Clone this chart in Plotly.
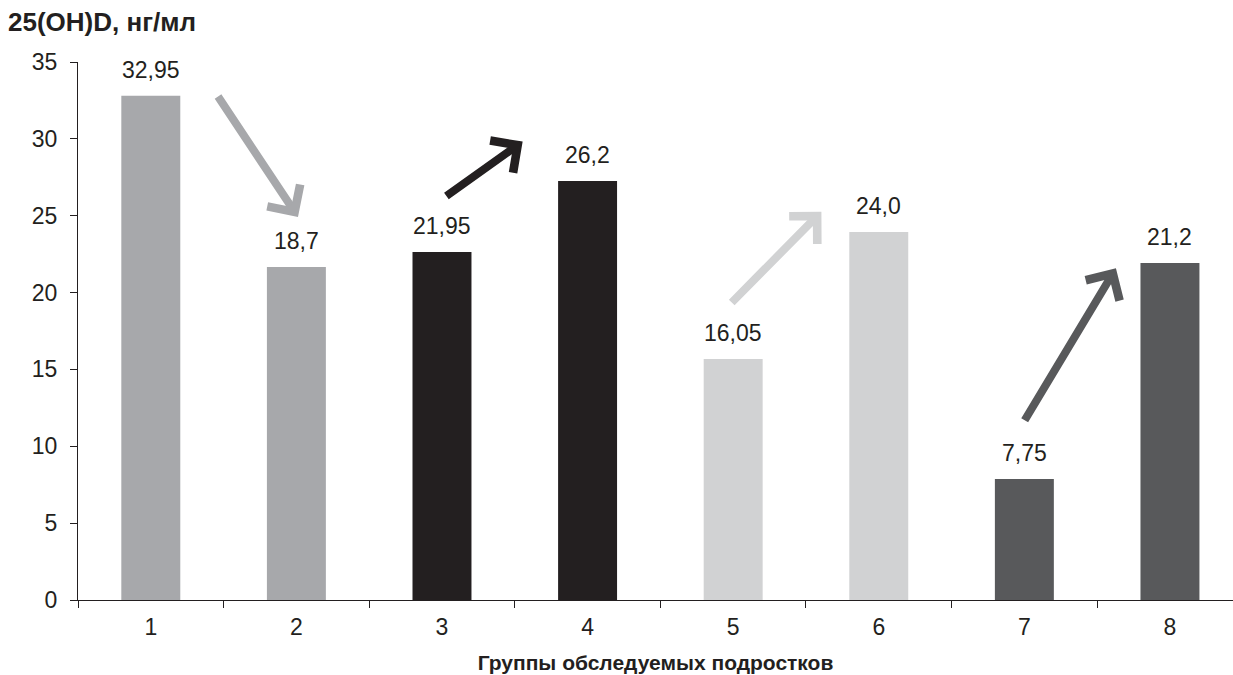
import plotly.graph_objects as go

# ---- data ----
groups = ["1", "2", "3", "4", "5", "6", "7", "8"]
bar_values = [32.81, 21.66, 22.64, 27.26, 15.68, 23.94, 7.87, 21.92]
value_labels = ["32,95", "18,7", "21,95", "26,2", "16,05", "24,0", "7,75", "21,2"]
bar_colors = ["#a7a8ab", "#a7a8ab", "#231f20", "#231f20",
              "#d1d2d3", "#d1d2d3", "#58595b", "#58595b"]

# arrows between groups (category index, value units): tail -> tip
arrow_tail_x = [0.455, 2.02, 3.98, 5.996]
arrow_tail_y = [32.85, 26.22, 19.26, 11.6]
arrow_tip_x = [1.011, 2.554, 4.606, 6.629]
arrow_tip_y = [24.92, 29.82, 25.26, 21.58]
arrow_colors = ["#a7a8ab", "#231f20", "#d1d2d3", "#58595b"]

y_title = "25(OH)D, нг/мл"
x_title = "Группы обследуемых подростков"

FONT = "Liberation Sans, Arial, sans-serif"
INK = "#231f20"

fig = go.Figure()
fig.add_trace(go.Bar(
    x=groups, y=bar_values,
    marker=dict(color=bar_colors, line=dict(width=0)),
    hoverinfo="skip",
))

annotations = []
for i, (v, t) in enumerate(zip(bar_values, value_labels)):
    annotations.append(dict(
        x=i, y=v, xref="x", yref="y", text=t, showarrow=False,
        yanchor="middle", yshift=26,
        font=dict(family=FONT, size=23, color=INK),
    ))

for tx, ty, hx, hy, c in zip(arrow_tail_x, arrow_tail_y, arrow_tip_x, arrow_tip_y, arrow_colors):
    annotations.append(dict(
        x=hx, y=hy, ax=tx, ay=ty, xref="x", yref="y", axref="x", ayref="y",
        text="", showarrow=True, arrowhead=4, arrowsize=0.95, arrowwidth=8,
        arrowcolor=c, standoff=0,
    ))

fig.update_layout(
    width=1233, height=675,
    margin=dict(l=78, r=0, t=62, b=75),
    paper_bgcolor="white", plot_bgcolor="white",
    bargap=0.595,
    showlegend=False,
    font=dict(family=FONT, size=23, color=INK),
    title=dict(
        text=y_title, x=8 / 1233, xanchor="left", xref="container",
        y=1 - 22 / 675, yanchor="middle", yref="container",
        font=dict(family=FONT, size=26, color=INK, weight="bold"),
    ),
    annotations=annotations,
)

fig.update_xaxes(
    type="category", range=[-0.5, 7.433],
    tickson="boundaries", ticks="outside", ticklen=7, tickwidth=1, tickcolor=INK,
    showline=True, linecolor=INK, linewidth=1,
    showgrid=False, zeroline=False, automargin=False,
    ticklabelstandoff=6,
    tickfont=dict(family=FONT, size=23, color=INK),
    title=dict(text=x_title, standoff=16,
               font=dict(family=FONT, size=21, color=INK, weight="bold")),
)
fig.update_yaxes(
    range=[0, 35], dtick=5, tick0=0,
    ticks="outside", ticklen=7, tickwidth=1, tickcolor=INK,
    showline=True, linecolor=INK, linewidth=1,
    showgrid=False, zeroline=False, automargin=False,
    ticklabelstandoff=8,
    tickfont=dict(family=FONT, size=23, color=INK),
)

fig.write_html("out.html", config={"displayModeBar": False},
               post_script="document.body.style.margin='0';")
